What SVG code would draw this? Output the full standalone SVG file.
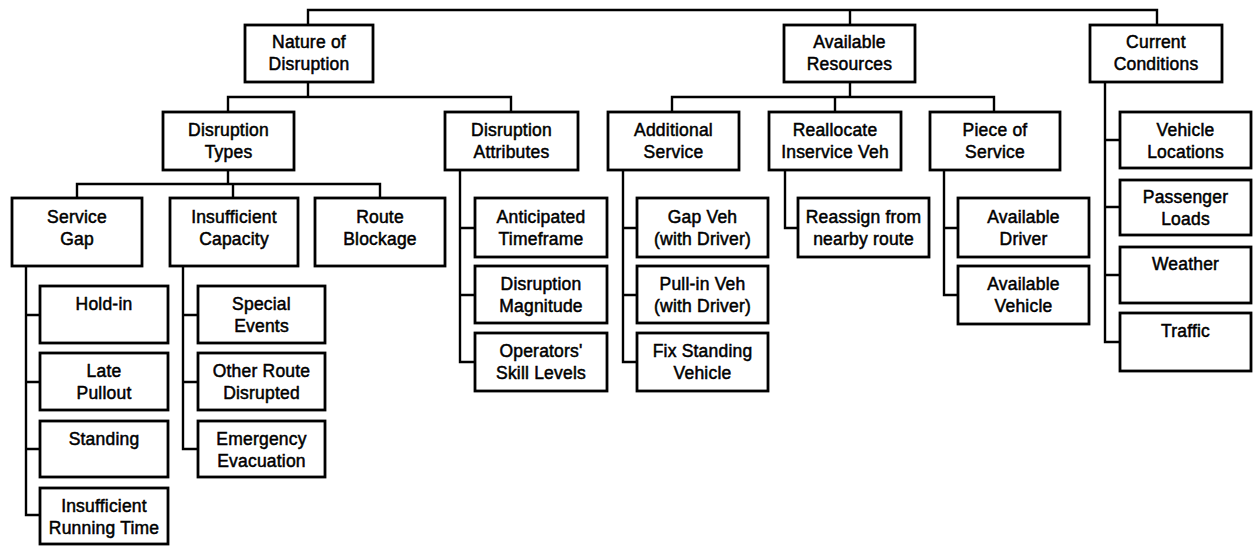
<svg xmlns="http://www.w3.org/2000/svg" width="1254" height="546" viewBox="0 0 1254 546">
  <style>
    .box { fill: #fff; stroke: #000; stroke-width: 2.8; }
    .lnk { fill: none; stroke: #000; stroke-width: 2.4; }
    text { font-family: "Liberation Sans", Arial, sans-serif; font-size: 17.5px; text-anchor: middle; fill: #000; stroke: #000; stroke-width: 0.5; letter-spacing: 0.2px; }
  </style>
  <rect width="1254" height="546" fill="#fff"/>

  <g id="connectors">
    <path class="lnk" d="M308,25 V10 H1157 V25 M850,10 V25"/>
    <path class="lnk" d="M308,82 V97 M228,112 V97 H511 V112"/>
    <path class="lnk" d="M850,82 V97 M672,112 V97 H994 V112 M835,97 V112"/>
    <path class="lnk" d="M228,170 V184 M77,198 V184 H380 V198 M233,184 V198"/>
    <path class="lnk" d="M26,266 V515 H40 M26,315 H40 M26,382 H40 M26,449 H40"/>
    <path class="lnk" d="M183,266 V449 H198 M183,315 H198 M183,382 H198"/>
    <path class="lnk" d="M460,170 V362 H475 M460,228 H475 M460,295 H475"/>
    <path class="lnk" d="M623,170 V362 H637 M623,228 H637 M623,295 H637"/>
    <path class="lnk" d="M785,170 V228 H798"/>
    <path class="lnk" d="M944,170 V295 H958 M944,228 H958"/>
    <path class="lnk" d="M1105,82 V342 H1120 M1105,140 H1120 M1105,207 H1120 M1105,275 H1120"/>
  </g>

  <g id="nature-of-disruption">
    <rect class="box" x="245" y="25" width="128" height="57"/>
    <text x="309" y="48">Nature of</text><text x="309" y="70">Disruption</text>
  </g>
  <g id="available-resources">
    <rect class="box" x="784" y="25" width="131" height="57"/>
    <text x="849.5" y="48">Available</text><text x="849.5" y="70">Resources</text>
  </g>
  <g id="current-conditions">
    <rect class="box" x="1090" y="25" width="132" height="57"/>
    <text x="1156" y="48">Current</text><text x="1156" y="70">Conditions</text>
  </g>

  <g id="disruption-types">
    <rect class="box" x="163" y="112" width="131" height="58"/>
    <text x="228.5" y="136">Disruption</text><text x="228.5" y="158">Types</text>
  </g>
  <g id="disruption-attributes">
    <rect class="box" x="445" y="112" width="133" height="58"/>
    <text x="511.5" y="136">Disruption</text><text x="511.5" y="158">Attributes</text>
  </g>
  <g id="additional-service">
    <rect class="box" x="608" y="112" width="131" height="58"/>
    <text x="673.5" y="136">Additional</text><text x="673.5" y="158">Service</text>
  </g>
  <g id="reallocate-inservice-veh">
    <rect class="box" x="769" y="112" width="132" height="58"/>
    <text x="835" y="136">Reallocate</text><text x="835" y="158">Inservice Veh</text>
  </g>
  <g id="piece-of-service">
    <rect class="box" x="930" y="112" width="130" height="58"/>
    <text x="995" y="136">Piece of</text><text x="995" y="158">Service</text>
  </g>

  <g id="service-gap">
    <rect class="box" x="12" y="198" width="130" height="68"/>
    <text x="77" y="223">Service</text><text x="77" y="245">Gap</text>
  </g>
  <g id="insufficient-capacity">
    <rect class="box" x="170" y="198" width="128" height="68"/>
    <text x="234" y="223">Insufficient</text><text x="234" y="245">Capacity</text>
  </g>
  <g id="route-blockage">
    <rect class="box" x="315" y="198" width="130" height="68"/>
    <text x="380" y="223">Route</text><text x="380" y="245">Blockage</text>
  </g>

  <g id="hold-in">
    <rect class="box" x="40" y="286" width="128" height="57"/>
    <text x="104" y="310">Hold-in</text>
  </g>
  <g id="late-pullout">
    <rect class="box" x="40" y="353" width="128" height="57"/>
    <text x="104" y="377">Late</text><text x="104" y="399">Pullout</text>
  </g>
  <g id="standing">
    <rect class="box" x="40" y="421" width="128" height="56"/>
    <text x="104" y="445">Standing</text>
  </g>
  <g id="insufficient-running-time">
    <rect class="box" x="40" y="488" width="128" height="56"/>
    <text x="104" y="512">Insufficient</text><text x="104" y="534">Running Time</text>
  </g>

  <g id="special-events">
    <rect class="box" x="198" y="286" width="127" height="57"/>
    <text x="261.5" y="310">Special</text><text x="261.5" y="332">Events</text>
  </g>
  <g id="other-route-disrupted">
    <rect class="box" x="198" y="353" width="127" height="57"/>
    <text x="261.5" y="377">Other Route</text><text x="261.5" y="399">Disrupted</text>
  </g>
  <g id="emergency-evacuation">
    <rect class="box" x="198" y="421" width="127" height="56"/>
    <text x="261.5" y="445">Emergency</text><text x="261.5" y="467">Evacuation</text>
  </g>

  <g id="anticipated-timeframe">
    <rect class="box" x="475" y="198" width="132" height="59"/>
    <text x="541" y="223">Anticipated</text><text x="541" y="245">Timeframe</text>
  </g>
  <g id="disruption-magnitude">
    <rect class="box" x="475" y="266" width="132" height="57"/>
    <text x="541" y="290">Disruption</text><text x="541" y="312">Magnitude</text>
  </g>
  <g id="operators-skill-levels">
    <rect class="box" x="475" y="333" width="132" height="58"/>
    <text x="541" y="357">Operators'</text><text x="541" y="379">Skill Levels</text>
  </g>

  <g id="gap-veh">
    <rect class="box" x="637" y="198" width="131" height="59"/>
    <text x="702.5" y="223">Gap Veh</text><text x="702.5" y="245">(with Driver)</text>
  </g>
  <g id="pull-in-veh">
    <rect class="box" x="637" y="266" width="131" height="57"/>
    <text x="702.5" y="290">Pull-in Veh</text><text x="702.5" y="312">(with Driver)</text>
  </g>
  <g id="fix-standing-vehicle">
    <rect class="box" x="637" y="333" width="131" height="58"/>
    <text x="702.5" y="357">Fix Standing</text><text x="702.5" y="379">Vehicle</text>
  </g>

  <g id="reassign-from-nearby-route">
    <rect class="box" x="798" y="198" width="131" height="59"/>
    <text x="863.5" y="223">Reassign from</text><text x="863.5" y="245">nearby route</text>
  </g>

  <g id="available-driver">
    <rect class="box" x="958" y="198" width="131" height="59"/>
    <text x="1023.5" y="223">Available</text><text x="1023.5" y="245">Driver</text>
  </g>
  <g id="available-vehicle">
    <rect class="box" x="958" y="266" width="131" height="58"/>
    <text x="1023.5" y="290">Available</text><text x="1023.5" y="312">Vehicle</text>
  </g>

  <g id="vehicle-locations">
    <rect class="box" x="1120" y="112" width="131" height="56"/>
    <text x="1185.5" y="136">Vehicle</text><text x="1185.5" y="158">Locations</text>
  </g>
  <g id="passenger-loads">
    <rect class="box" x="1120" y="180" width="131" height="55"/>
    <text x="1185.5" y="203">Passenger</text><text x="1185.5" y="225">Loads</text>
  </g>
  <g id="weather">
    <rect class="box" x="1120" y="247" width="131" height="56"/>
    <text x="1185.5" y="270">Weather</text>
  </g>
  <g id="traffic">
    <rect class="box" x="1120" y="313" width="131" height="58"/>
    <text x="1185.5" y="337">Traffic</text>
  </g>
</svg>
